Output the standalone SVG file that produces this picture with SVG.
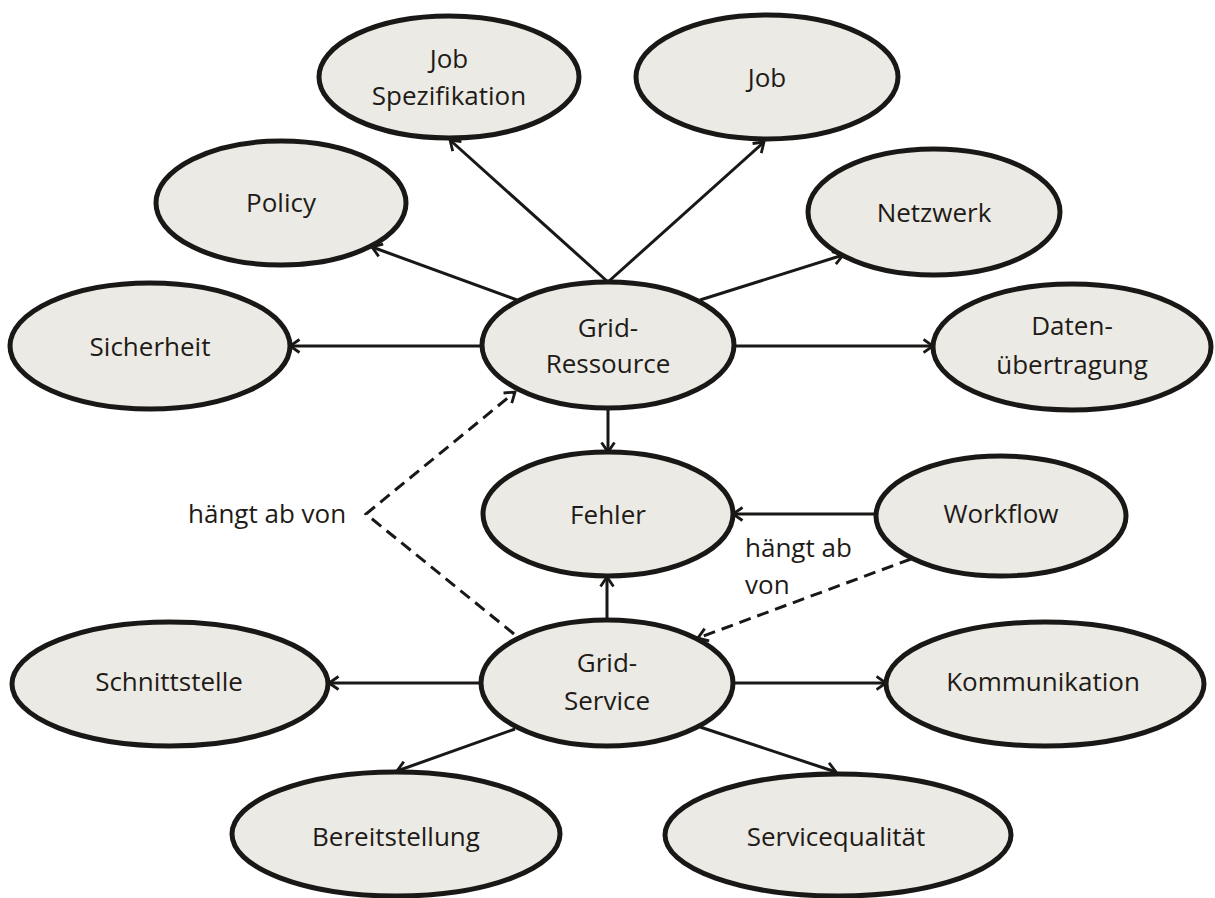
<svg xmlns="http://www.w3.org/2000/svg" width="1215" height="898" viewBox="0 0 1215 898">
<style>
.n ellipse{fill:#ebeae4;stroke:#1a1816;stroke-width:5}
.n text,.lbl{font-family:"Open Sans","Liberation Sans",sans-serif;font-size:26px;fill:#1f1b18}
.n text{text-anchor:middle}
.c path{fill:none;stroke:#1a1816;stroke-width:3}
.c .d{stroke-dasharray:12 7}
</style>
<defs>
<marker id="ah" markerUnits="userSpaceOnUse" viewBox="0 0 12 16" refX="10.5" refY="8" markerWidth="12" markerHeight="16" orient="auto">
<path d="M1,1.5 L10.5,8 L1,14.5" fill="none" stroke="#1a1816" stroke-width="2.8" stroke-linejoin="miter"/>
</marker>
</defs>
<rect width="1215" height="898" fill="#ffffff"/>
<g id="connectors" class="c">
<path d="M608,282 L450,140" marker-end="url(#ah)"/>
<path d="M608,282 L764,142" marker-end="url(#ah)"/>
<path d="M517,300 L372,247" marker-end="url(#ah)"/>
<path d="M700,300 L843,255" marker-end="url(#ah)"/>
<path d="M482,346 L290,346" marker-end="url(#ah)"/>
<path d="M734,346 L933,346" marker-end="url(#ah)"/>
<path d="M608,408 L608,452" marker-end="url(#ah)"/>
<path d="M876,514 L733,514" marker-end="url(#ah)"/>
<path d="M607,620 L607,577" marker-end="url(#ah)"/>
<path class="d" d="M911,559 L698,638" marker-end="url(#ah)"/>
<path class="d" d="M514,634 L366,514 L515,392" marker-end="url(#ah)"/>
<path d="M481,683 L329,683" marker-end="url(#ah)"/>
<path d="M733,683 L886,683" marker-end="url(#ah)"/>
<path d="M515,729 L397,771" marker-end="url(#ah)"/>
<path d="M700,727 L836,772" marker-end="url(#ah)"/>
</g>
<g id="job-spezifikation" class="n"><ellipse cx="449" cy="77" rx="130" ry="61"/><text x="449" y="68">Job</text><text x="449" y="105">Spezifikation</text></g>
<g id="job" class="n"><ellipse cx="767" cy="77" rx="131" ry="62"/><text x="767" y="87">Job</text></g>
<g id="policy" class="n"><ellipse cx="281" cy="203" rx="125" ry="62"/><text x="281" y="212">Policy</text></g>
<g id="netzwerk" class="n"><ellipse cx="934" cy="212" rx="126" ry="63"/><text x="934" y="222">Netzwerk</text></g>
<g id="sicherheit" class="n"><ellipse cx="150" cy="346" rx="140" ry="63"/><text x="150" y="356">Sicherheit</text></g>
<g id="grid-ressource" class="n"><ellipse cx="608" cy="345" rx="126" ry="63"/><text x="608" y="337">Grid-</text><text x="608" y="373">Ressource</text></g>
<g id="datenuebertragung" class="n"><ellipse cx="1072" cy="347" rx="139" ry="63"/><text x="1072" y="335">Daten-</text><text x="1072" y="374">übertragung</text></g>
<g id="fehler" class="n"><ellipse cx="608" cy="514" rx="125" ry="62"/><text x="608" y="524">Fehler</text></g>
<g id="workflow" class="n"><ellipse cx="1001" cy="516" rx="125" ry="60"/><text x="1001" y="523">Workflow</text></g>
<g id="grid-service" class="n"><ellipse cx="607" cy="683" rx="126" ry="63"/><text x="607" y="672">Grid-</text><text x="607" y="710">Service</text></g>
<g id="schnittstelle" class="n"><ellipse cx="170" cy="684" rx="158" ry="62"/><text x="169" y="691">Schnittstelle</text></g>
<g id="kommunikation" class="n"><ellipse cx="1045" cy="684" rx="159" ry="62"/><text x="1043" y="691">Kommunikation</text></g>
<g id="bereitstellung" class="n"><ellipse cx="396" cy="834" rx="164" ry="62"/><text x="396" y="846">Bereitstellung</text></g>
<g id="servicequalitaet" class="n"><ellipse cx="838" cy="835" rx="173" ry="61"/><text x="836" y="846">Servicequalität</text></g>
<text class="lbl" x="188" y="523">hängt ab von</text>
<text class="lbl" x="745" y="557">hängt ab</text>
<text class="lbl" x="745" y="594">von</text>
</svg>
